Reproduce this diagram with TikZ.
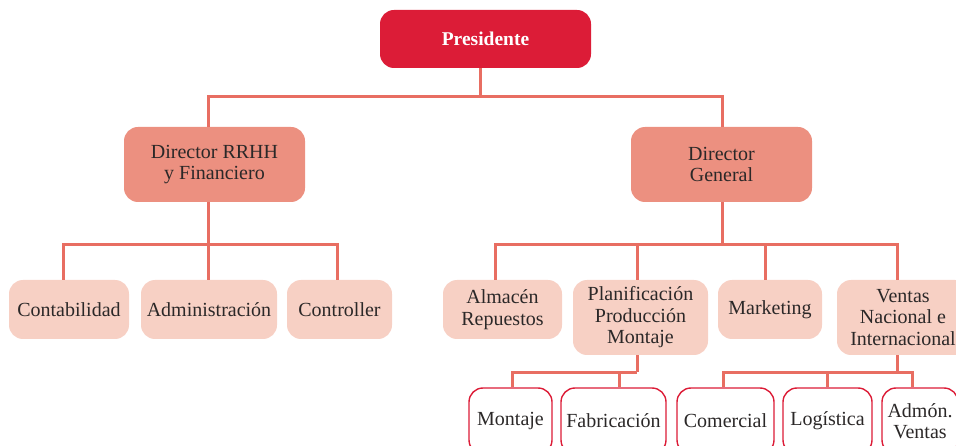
\documentclass[tikz,border=0pt]{standalone}
\usepackage{fontspec}
\setmainfont{Liberation Serif}
\definecolor{presred}{RGB}{220,28,55}
\definecolor{dirfill}{RGB}{236,144,128}
\definecolor{lvlfill}{RGB}{247,208,196}
\definecolor{conncol}{RGB}{232,110,98}
\definecolor{txt}{RGB}{43,40,40}
\begin{document}
\begin{tikzpicture}[x=1pt,y=-1pt,
  box/.style={rounded corners=14pt, inner sep=0pt, align=center,
    font=\fontsize{20}{21.5}\selectfont, text=txt},
  wh/.style 2 args={minimum width=#1pt, minimum height=#2pt},
  topbox/.style={box, fill=presred, text=white, font=\fontsize{19.5}{21.5}\selectfont\bfseries},
  dirbox/.style={box, fill=dirfill},
  unitbox/.style={box, fill=lvlfill},
  subbox/.style={box, fill=white, draw=presred, line width=1.4pt},
  conn/.style={draw=conncol, line width=3pt, line cap=butt, line join=miter}]
\useasboundingbox (0,0) rectangle (956,446);
\clip (0,0) rectangle (956,446);
% nodes
\node[topbox, wh={211}{58}] (pres) at (485.5,39) {Presidente};
\node[dirbox, wh={181}{75}] (drh) at (214.5,164.5) {Director RRHH\\y Financiero};
\node[dirbox, wh={181}{75}] (dg) at (721.5,164.5) {Director\\General};
\node[unitbox, wh={120}{59}] (cont) at (69,309.5) {Contabilidad};
\node[unitbox, wh={136}{59}] (adm) at (209,309.5) {Administración};
\node[unitbox, wh={105}{59}] (ctrl) at (339.5,309.5) {Controller};
\node[unitbox, wh={119}{59}] (alm) at (502.5,309.5) {Almacén\\Repuestos};
\node[unitbox, wh={135}{75}] (plan) at (640.5,317.5) {Planificación\\Producción\\Montaje};
\node[unitbox, wh={104}{59}] (mkt) at (770,309.5) {Marketing};
\node[unitbox, wh={132}{75}] (ven) at (903,317.5) {Ventas\\Nacional e\\Internacional};
\node[subbox, wh={83}{66}] (mon) at (510.5,421) {Montaje};
\node[subbox, wh={105}{66}] (fab) at (613.5,421) {Fabricación};
\node[subbox, wh={97}{66}] (com) at (725.5,421) {Comercial};
\node[subbox, wh={89}{66}] (log) at (827.5,421) {Logística};
\node[subbox, wh={76}{66}] (admv) at (920,421) {Admón.\\Ventas};
% junction coordinates
\coordinate (p0) at (480,97);
\coordinate (pL) at (208,97);
\coordinate (pR) at (722,97);
\coordinate (r0) at (208,245);
\coordinate (r1) at (63,245);
\coordinate (r2) at (208,245);
\coordinate (r3) at (337,245);
\coordinate (g0) at (722,245);
\coordinate (g1) at (495,245);
\coordinate (g2) at (637,245);
\coordinate (g3) at (765,245);
\coordinate (g4) at (897,245);
\coordinate (q0) at (637,372);
\coordinate (q1) at (512,372);
\coordinate (q2) at (619,372);
\coordinate (v0) at (897,372);
\coordinate (v1) at (723,372);
\coordinate (v2) at (827,372);
\coordinate (v3) at (912,372);
% connectors
\draw[conn] (p0 |- pres.south) -- (p0);
\draw[conn] (pL |- drh.north) -- (pL) -- (pR) -- (pR |- dg.north);
\draw[conn] (r0 |- drh.south) -- (r0);
\draw[conn] (r1 |- cont.north) -- (r1) -- (r3) -- (r3 |- ctrl.north);
\draw[conn] (r2) -- (r2 |- adm.north);
\draw[conn] (g0 |- dg.south) -- (g0);
\draw[conn] (g1 |- alm.north) -- (g1) -- (g4) -- (g4 |- ven.north);
\draw[conn] (g2) -- (g2 |- plan.north);
\draw[conn] (g3) -- (g3 |- mkt.north);
\draw[conn] (q0 |- plan.south) -- (q0);
\draw[conn] (q1 |- mon.north) -- (q1) -- (q0);
\draw[conn] (q2) -- (q2 |- fab.north);
\draw[conn] (v0 |- ven.south) -- (v0);
\draw[conn] (v1 |- com.north) -- (v1) -- (v3) -- (v3 |- admv.north);
\draw[conn] (v2) -- (v2 |- log.north);
\end{tikzpicture}
\end{document}
